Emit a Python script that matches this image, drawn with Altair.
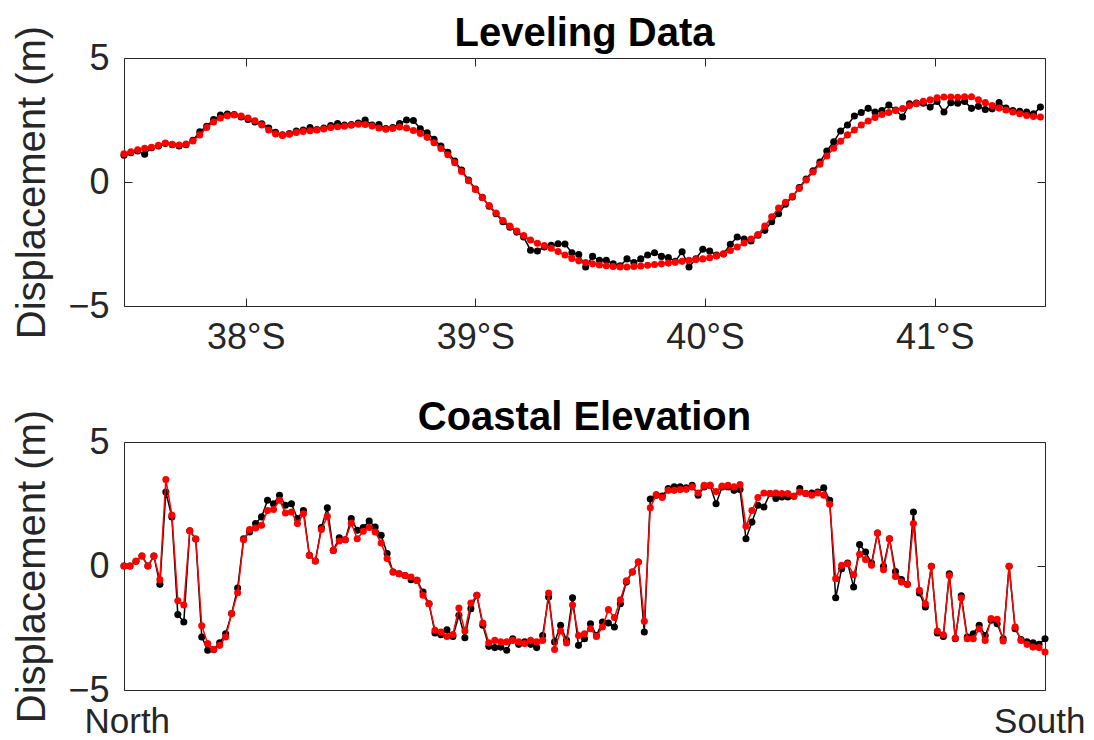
import altair as alt
import pandas as pd

# ---------------- data ----------------
LAT = [round(37.47 + 0.03 * i, 2) for i in range(134)]

LEVEL_MODEL = [
    1.14, 1.22, 1.30, 1.36, 1.40, 1.48, 1.57, 1.52, 1.49, 1.53,
    1.65, 1.90, 2.20, 2.42, 2.58, 2.67, 2.70, 2.66, 2.58, 2.47,
    2.30, 2.10, 1.94, 1.88, 1.93, 2.00, 2.04, 2.07, 2.10, 2.14,
    2.20, 2.23, 2.25, 2.29, 2.33, 2.32, 2.26, 2.18, 2.13, 2.16,
    2.22, 2.18, 2.08, 1.96, 1.80, 1.58, 1.35, 1.10, 0.78, 0.42,
    0.05, -0.30, -0.63, -0.95, -1.25, -1.55, -1.78, -1.98, -2.16, -2.34,
    -2.47, -2.56, -2.67, -2.80, -2.94, -3.08, -3.18, -3.25, -3.30, -3.35,
    -3.38, -3.41, -3.43, -3.43, -3.41, -3.39, -3.36, -3.33, -3.30, -3.27,
    -3.24, -3.20, -3.16, -3.13, -3.10, -3.05, -2.98, -2.89, -2.76, -2.62,
    -2.46, -2.30, -2.12, -1.78, -1.40, -1.05, -0.82, -0.58, -0.26, 0.08,
    0.40, 0.72, 1.05, 1.36, 1.64, 1.90, 2.10, 2.30, 2.46, 2.60,
    2.72, 2.80, 2.88, 2.96, 3.08, 3.16, 3.25, 3.32, 3.40, 3.43,
    3.43, 3.42, 3.44, 3.44, 3.32, 3.20, 3.08, 2.98, 2.90, 2.82,
    2.75, 2.68, 2.64, 2.62,
]

LEVEL_OBS = [
    1.08, 1.18, 1.25, 1.12, 1.38, 1.45, 1.55, 1.50, 1.45, 1.50,
    1.68, 2.02, 2.25, 2.52, 2.70, 2.74, 2.72, 2.62, 2.52, 2.42,
    2.35, 2.18, 2.00, 1.90, 1.95, 2.06, 2.10, 2.20, 2.12, 2.18,
    2.28, 2.36, 2.30, 2.32, 2.38, 2.50, 2.30, 2.32, 2.16, 2.20,
    2.36, 2.50, 2.48, 2.15, 1.98, 1.72, 1.45, 1.20, 0.85, 0.48,
    0.08, -0.28, -0.62, -0.98, -1.28, -1.60, -1.82, -2.02, -2.22, -2.75,
    -2.78, -2.62, -2.55, -2.49, -2.50, -2.85, -2.92, -3.43, -3.00, -3.16,
    -3.16, -3.30, -3.38, -3.10, -3.25, -3.10, -2.94, -2.85, -3.00, -3.05,
    -3.20, -2.81, -3.43, -3.10, -2.71, -2.78, -2.95, -2.90, -2.51, -2.22,
    -2.30, -2.38, -2.15, -1.95, -1.60, -1.28, -0.90, -0.60, -0.22, 0.12,
    0.45, 0.80, 1.25, 1.62, 2.06, 2.30, 2.66, 2.80, 2.97, 2.82,
    2.88, 3.10, 2.90, 2.62, 3.15, 3.18, 3.18, 3.02, 3.25, 2.82,
    3.20, 3.18, 3.25, 2.97, 3.05, 2.92, 2.95, 3.20, 2.98, 2.88,
    2.85, 2.82, 2.75, 3.02,
]

COAST_MODEL = [
    0.00, 0.00, 0.19, 0.40, 0.00, 0.40, -0.55, 3.49, 2.06, -1.40,
    -1.57, 1.42, 1.09, -2.41, -3.13, -3.37, -3.20, -2.86, -1.92, -1.08,
    1.06, 1.47, 1.53, 1.64, 2.24, 2.28, 2.65, 2.14, 2.18, 1.71,
    2.11, 0.43, 0.20, 1.47, 2.00, 0.63, 1.01, 1.06, 1.73, 1.10,
    1.40, 1.55, 1.37, 0.93, 0.30, -0.24, -0.31, -0.38, -0.44, -0.58,
    -1.18, -1.52, -2.59, -2.66, -2.84, -2.76, -1.69, -2.62, -1.49, -1.18,
    -2.30, -3.10, -3.00, -3.06, -3.06, -3.00, -3.06, -3.13, -3.00, -3.06,
    -3.00, -1.09, -3.37, -2.62, -3.10, -1.57, -2.80, -2.73, -2.53, -2.84,
    -2.46, -1.76, -2.08, -1.36, -0.60, -0.24, 0.16, -2.23, 2.35, 2.88,
    2.76, 3.05, 3.05, 3.08, 3.09, 3.19, 2.94, 3.25, 3.25, 3.00,
    3.22, 3.25, 3.19, 3.28, 1.60, 2.24, 2.76, 2.94, 2.92, 2.94,
    2.92, 2.92, 2.81, 2.98, 2.92, 2.85, 2.94, 2.85, 2.49, -0.51,
    0.03, 0.09, -0.35, 0.47, 0.26, 0.03, 1.33, -0.15, 1.10, -0.42,
    -0.65, -0.74, 1.71, -0.98, -1.52, -0.01, -2.62, -2.77, -0.38, -2.90,
    -1.29, -2.93, -2.93, -2.53, -3.00, -2.12, -2.15, -3.02, -0.01, -2.46,
    -3.00, -3.16, -3.27, -3.29, -3.47,
]

COAST_OBS = [
    0.00, 0.00, 0.19, 0.40, 0.00, 0.40, -0.74, 2.98, 1.98, -1.96,
    -2.26, 1.42, 1.09, -2.86, -3.40, -3.37, -3.10, -2.73, -1.92, -0.89,
    1.10, 1.37, 1.71, 1.98, 2.65, 2.51, 2.85, 2.45, 2.51, 1.91,
    2.24, 0.43, 0.20, 1.55, 2.35, 0.63, 1.14, 1.06, 1.91, 1.44,
    1.55, 1.81, 1.57, 1.24, 0.50, -0.24, -0.31, -0.38, -0.55, -0.58,
    -1.05, -1.52, -2.70, -2.77, -2.57, -2.84, -1.99, -2.89, -1.72, -1.18,
    -2.39, -3.24, -3.29, -3.27, -3.40, -2.93, -3.16, -3.06, -3.16, -3.29,
    -2.80, -1.25, -3.06, -2.39, -3.00, -1.28, -3.20, -2.93, -2.33, -2.80,
    -2.26, -2.30, -2.46, -1.52, -0.65, -0.24, 0.16, -2.66, 2.70, 2.85,
    2.82, 3.12, 3.19, 3.19, 3.15, 3.25, 2.85, 3.19, 3.25, 2.51,
    3.19, 3.19, 3.05, 3.08, 1.10, 1.77, 2.45, 2.38, 2.92, 2.72,
    2.78, 2.78, 2.81, 3.12, 2.92, 2.94, 2.98, 3.15, 2.65, -1.28,
    -0.11, 0.12, -0.85, 0.87, 0.56, 0.12, 1.33, -0.01, 1.10, -0.22,
    -0.55, -0.74, 2.18, -1.09, -1.65, -0.01, -2.70, -2.84, -0.31, -2.93,
    -1.20, -2.86, -2.73, -2.39, -2.80, -2.19, -2.33, -2.93, -0.01, -2.53,
    -2.97, -3.06, -3.10, -3.16, -2.93,
]
COAST_IDX = list(range(len(COAST_MODEL)))

LAT_TICKS = [38, 39, 40, 41]
LAT_SUFFIX = "°S"
Y_TICKS = [-5, 0, 5]
COAST_TICKS = [0, len(COAST_MODEL) - 1]
COAST_TICK_LABELS = ["North", "South"]

TITLES = ["Leveling Data", "Coastal Elevation"]
Y_TITLE = "Displacement (m)"

# ---------------- style ----------------
FONT = "Liberation Sans"
AX = "#262626"
W, H = 921, 248
TICK_FS = 36
LABEL_FS = 40
TITLE_FS = 40
PT = 50
LW = 1.5


def y_axis():
    return alt.Axis(values=Y_TICKS, offset=-8, tickSize=8, domain=False, grid=False,
                    labelPadding=15, labelFontSize=TICK_FS, labelFont=FONT, labelColor=AX,
                    tickColor=AX, title=Y_TITLE, titleFontSize=LABEL_FS, titleFont=FONT,
                    titleFontWeight="normal", titleColor=AX, titlePadding=15)


def title(t):
    return alt.TitleParams(text=t, fontSize=TITLE_FS, fontWeight="bold", font=FONT,
                           color="black", frame="group", anchor="middle", offset=18,
                           baseline="top", dy=47)


def panel(df, xfield, xscale, xaxis, top_axis, t):
    ys = alt.Scale(domain=[-5, 5], nice=False, zero=False)
    base = alt.Chart(df)
    X = alt.X(xfield, type="quantitative", scale=xscale, axis=xaxis)
    Yo = alt.Y("obs", type="quantitative", scale=ys, axis=y_axis())
    Ym = alt.Y("model", type="quantitative", scale=ys, axis=y_axis())
    l1 = base.mark_line(color="black", strokeWidth=LW).encode(x=X, y=Yo)
    p1 = base.mark_circle(color="black", size=PT, opacity=1).encode(x=X, y=Yo)
    l2 = base.mark_line(color="#ff0000", strokeWidth=LW).encode(x=X, y=Ym)
    p2 = base.mark_circle(color="#ff0000", size=PT, opacity=1).encode(x=X, y=Ym)
    main = alt.layer(l1, p1, l2, p2)
    ghost = base.mark_circle(opacity=0).encode(
        x=alt.X(xfield, type="quantitative", scale=xscale, axis=top_axis),
        y=alt.Y("obs", type="quantitative", scale=ys,
                axis=alt.Axis(orient="right", values=Y_TICKS, labels=False, offset=-8,
                              tickSize=8, domain=False, grid=False, title=None,
                              tickColor=AX)),
    )
    return alt.layer(main, ghost).resolve_scale(x="independent", y="independent").properties(
        width=W, height=H, title=title(t))


top_df = pd.DataFrame({"lat": LAT, "obs": LEVEL_OBS, "model": LEVEL_MODEL})
bot_df = pd.DataFrame({"idx": COAST_IDX, "obs": COAST_OBS, "model": COAST_MODEL})

lat_scale = alt.Scale(domain=[37.47, 41.48], nice=False, zero=False)
lat_axis = alt.Axis(values=LAT_TICKS, labelExpr=f"datum.value + '{LAT_SUFFIX}'", offset=-8,
                    tickSize=8, domain=False, grid=False, labelPadding=14,
                    labelFontSize=TICK_FS, labelFont=FONT, labelColor=AX, tickColor=AX,
                    labelFlush=False, title=None)
lat_top = alt.Axis(orient="top", values=LAT_TICKS, labels=False, offset=-8, tickSize=8,
                   domain=False, grid=False, title=None, tickColor=AX)

idx_scale = alt.Scale(domain=[COAST_TICKS[0], COAST_TICKS[1]], nice=False, zero=False)
idx_expr = f"datum.value == {COAST_TICKS[0]} ? '{COAST_TICK_LABELS[0]}' : '{COAST_TICK_LABELS[1]}'"
idx_axis = alt.Axis(values=COAST_TICKS, labelExpr=idx_expr, ticks=False, domain=False,
                    grid=False, labelPadding=14, labelFontSize=35, labelFont=FONT,
                    labelColor=AX, labelFlush=True, labelFlushOffset=40,
                    labelOverlap=False, title=None)
idx_top = alt.Axis(orient="top", values=COAST_TICKS, labels=False, ticks=False,
                   domain=False, grid=False, title=None)

top = panel(top_df, "lat", lat_scale, lat_axis, lat_top, TITLES[0])
bottom = panel(bot_df, "idx", idx_scale, idx_axis, idx_top, TITLES[1])

chart = alt.vconcat(top, bottom, spacing=41).properties(
    padding={"left": 4, "top": 5, "right": 0, "bottom": 0}
).configure(font=FONT).configure_view(stroke=AX, strokeWidth=1)

chart.save("out.html", embed_options={"renderer": "svg", "actions": False})
